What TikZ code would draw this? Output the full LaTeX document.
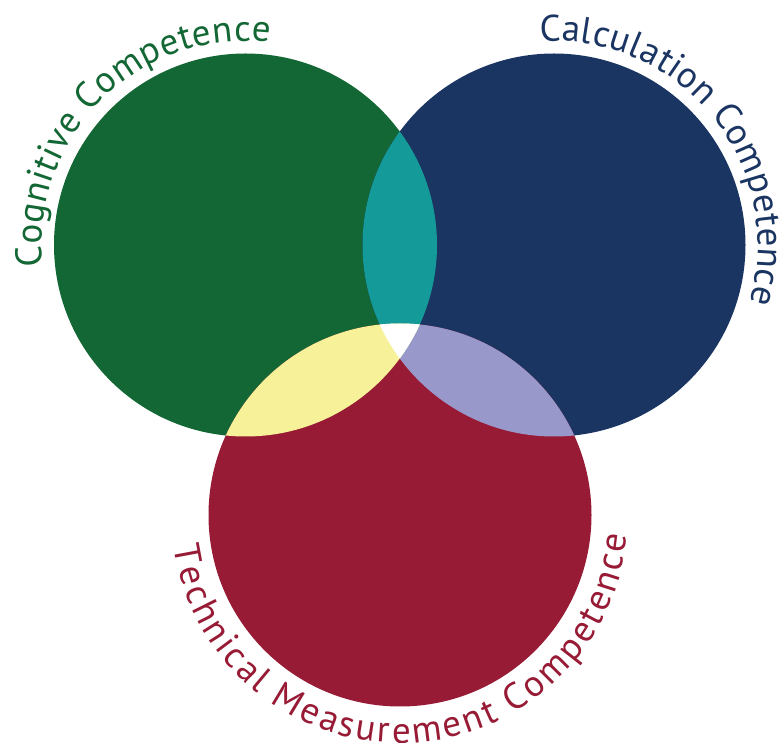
\documentclass[tikz,border=0pt]{standalone}
\usepackage{fontspec}
\setmainfont{PT Sans}
\usetikzlibrary{decorations.text}
\definecolor{cogngreen}{HTML}{136734}
\definecolor{calcblue}{HTML}{1B3562}
\definecolor{techred}{HTML}{981B36}
\definecolor{lensteal}{HTML}{159A9A}
\definecolor{lensyellow}{HTML}{F7F29A}
\definecolor{lenslav}{HTML}{9998CB}
\newcommand{\arcfont}{\fontsize{37}{40}\selectfont}

\begin{document}
\begin{tikzpicture}[x=1pt,y=1pt,
  arclabel/.style={decorate,decoration={text along path,text align={fit to path},text color=#1}}]
\useasboundingbox (0,0) rectangle (779,742);
\coordinate (G) at (245.5,497);
\coordinate (B) at (554,497);
\coordinate (R) at (400,227);
\def\rad{191.5}
\fill[cogngreen] (G) circle (\rad);
\fill[calcblue] (B) circle (\rad);
\fill[techred] (R) circle (\rad);
\begin{scope}
\clip (B) circle (\rad);
\fill[lenslav] (R) circle (\rad);
\end{scope}
\begin{scope}
\clip (G) circle (\rad);
\fill[lensteal] (B) circle (\rad);
\fill[lensyellow] (R) circle (\rad);
\clip (B) circle (\rad);
\fill[white] (R) circle (\rad);
\end{scope}
%\draw (G) -- (B) -- (R) -- cycle;
\path[arclabel=cogngreen,decoration={text={|\arcfont|Cognitive Competence}}]
  ([shift={(186:204)}]G) arc[start angle=186,end angle=83,radius=204];
\path[arclabel=calcblue,decoration={text={|\arcfont|Calculation Competence}}]
  ([shift={(94:204)}]B) arc[start angle=94,end angle=-16.5,radius=204];
\path[arclabel=techred,decoration={text={|\arcfont|Technical Measurement Competence}}]
  ([shift={(188:228)}]R) arc[start angle=188,end angle=355,radius=228];
\end{tikzpicture}
\end{document}
